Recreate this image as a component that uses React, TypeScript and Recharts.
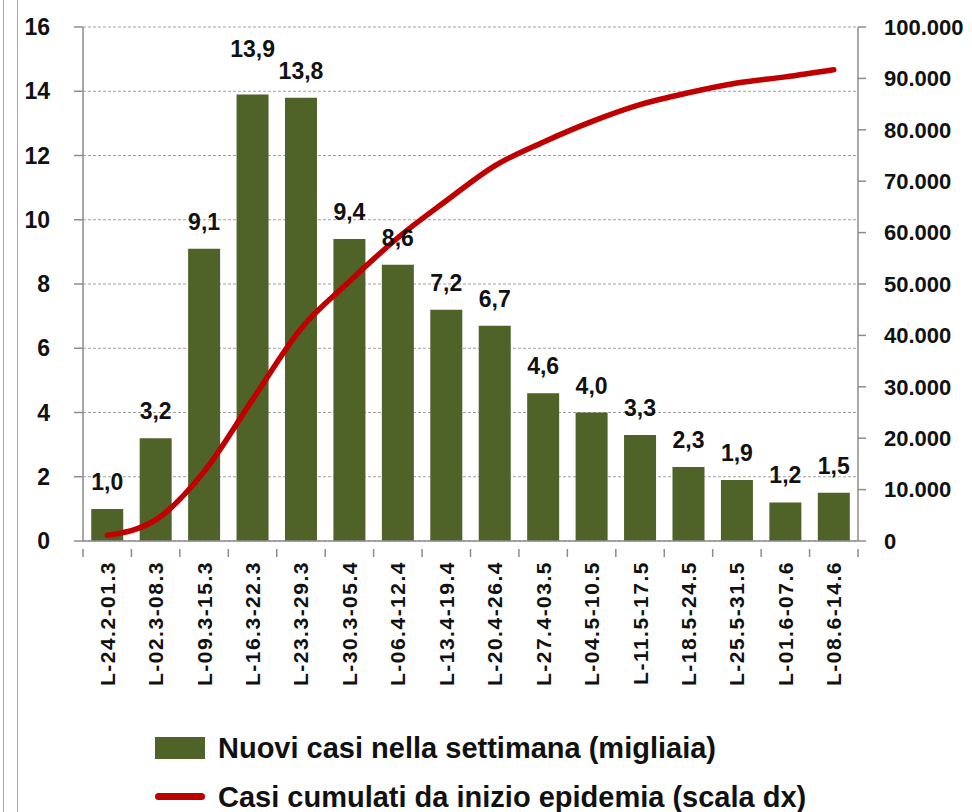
import { ComposedChart, Bar, Line, XAxis, YAxis, CartesianGrid, LabelList, Legend } from "recharts";

// weekly periods
const weeks = [
  "L-24.2-01.3", "L-02.3-08.3", "L-09.3-15.3", "L-16.3-22.3", "L-23.3-29.3", "L-30.3-05.4",
  "L-06.4-12.4", "L-13.4-19.4", "L-20.4-26.4", "L-27.4-03.5", "L-04.5-10.5", "L-11.5-17.5",
  "L-18.5-24.5", "L-25.5-31.5", "L-01.6-07.6", "L-08.6-14.6",
];

// new cases in the week (thousands)
const newCases = [1.0, 3.2, 9.1, 13.9, 13.8, 9.4, 8.6, 7.2, 6.7, 4.6, 4.0, 3.3, 2.3, 1.9, 1.2, 1.5];

// cumulative cases (right scale)
const cumulative = [
  1100, 4100, 13500, 27500, 41300, 50500, 59000, 66200, 73000, 77600, 81600, 84900, 87200, 89100, 90300, 91700,
];

const leftTicks = [0, 2, 4, 6, 8, 10, 12, 14, 16];
const rightTicks = [0, 10000, 20000, 30000, 40000, 50000, 60000, 70000, 80000, 90000, 100000];

const data = weeks.map((w, i) => ({ week: w, nuovi: newCases[i], cumulati: cumulative[i] }));

const GREEN = "#4f6228";
const RED = "#c00000";
const AXIS = "#8c8c8c";
const FONT = "'Liberation Sans', Arial, sans-serif";

const fmtThousands = (v: number) => (v === 0 ? "0" : v.toLocaleString("it-IT").replace(/\s/g, "."));
const fmtDecimal = (v: any) => Number(v).toFixed(1).replace(".", ",");

const BAND = 775 / weeks.length;

function WeekTick(props: any) {
  const { x, y, payload, index } = props;
  const ty = y + 12;
  return (
    <g>
      <line x1={x - BAND / 2} y1={y} x2={x - BAND / 2} y2={y + 8} stroke={AXIS} strokeWidth={1.5} />
      {index === weeks.length - 1 && (
        <line x1={x + BAND / 2} y1={y} x2={x + BAND / 2} y2={y + 8} stroke={AXIS} strokeWidth={1.5} />
      )}
      <text
        x={x}
        y={ty}
        transform={`rotate(-90, ${x}, ${ty})`}
        textAnchor="end"
        dominantBaseline="central"
        fontFamily={FONT}
        fontWeight="bold"
        fontSize={21}
        letterSpacing={1.5}
        fill="#111"
      >
        {payload.value}
      </text>
    </g>
  );
}

// lift a label when the next bar has almost the same height (labels would collide)
function BarValueLabel(props: any) {
  const { x, y, width, value, index } = props;
  const next = newCases[index + 1];
  const lift = next !== undefined && value > next && value - next < 0.3 ? 18 : 0;
  return (
    <text
      x={x + width / 2}
      y={y - 19 - lift}
      textAnchor="middle"
      fontFamily={FONT}
      fontWeight="bold"
      fontSize={23}
      fill="#111"
    >
      {fmtDecimal(value)}
    </text>
  );
}

function ChartLegend() {
  const textStyle: any = {
    position: "absolute",
    left: 218,
    fontFamily: FONT,
    fontWeight: "bold",
    fontSize: 29,
    color: "#111",
    whiteSpace: "nowrap",
    lineHeight: "32px",
  };
  return (
    <div style={{ position: "relative", width: 972, height: 106 }}>
      <div style={{ position: "absolute", left: 155, top: 31, width: 50, height: 22, background: GREEN }} />
      <div style={{ ...textStyle, top: 26 }}>Nuovi casi nella settimana (migliaia)</div>
      <div style={{ position: "absolute", left: 155, top: 87, width: 50, height: 7, borderRadius: 4, background: RED }} />
      <div style={{ ...textStyle, top: 75 }}>Casi cumulati da inizio epidemia (scala dx)</div>
    </div>
  );
}

export default function App() {
  return (
    <div style={{ position: "absolute", left: 0, top: 0, width: 972, height: 812, background: "#fff", overflow: "hidden" }}>
      <div style={{ position: "absolute", left: 3, top: 0, width: 0, height: 812, borderLeft: "1.5px solid #aaa" }} />
      <div
        style={{
          position: "absolute",
          left: 17,
          top: -20,
          width: 1000,
          height: 842,
          border: "1.5px solid #aaa",
          borderRadius: 12,
        }}
      />
      <ComposedChart
        width={972}
        height={812}
        data={data}
        margin={{ top: 27, right: 0, bottom: 0, left: 0 }}
        barCategoryGap="17%"
        style={{ position: "absolute", left: 0, top: 0 }}
      >
        <CartesianGrid yAxisId="left" vertical={false} horizontal stroke="#a0a0a0" strokeDasharray="3 2" />
        <XAxis
          dataKey="week"
          interval={0}
          height={165}
          tick={<WeekTick />}
          tickLine={false}
          axisLine={{ stroke: AXIS, strokeWidth: 1.5 }}
        />
        <YAxis
          yAxisId="left"
          orientation="left"
          width={83}
          domain={[0, 16]}
          ticks={leftTicks}
          interval={0}
          tickSize={9}
          tickMargin={24}
          tickLine={{ stroke: AXIS, strokeWidth: 1.5 }}
          axisLine={{ stroke: AXIS, strokeWidth: 1.5 }}
          tick={{ fontFamily: FONT, fontWeight: "bold", fontSize: 23, fill: "#111" }}
        />
        <YAxis
          yAxisId="right"
          orientation="right"
          width={114}
          domain={[0, 100000]}
          ticks={rightTicks}
          interval={0}
          tickSize={8}
          tickMargin={18}
          tickFormatter={fmtThousands}
          tickLine={{ stroke: AXIS, strokeWidth: 1.5 }}
          axisLine={{ stroke: AXIS, strokeWidth: 1.5 }}
          tick={{ fontFamily: FONT, fontWeight: "bold", fontSize: 22, fill: "#111", textAnchor: "start" }}
        />
        <Legend verticalAlign="bottom" height={106} content={<ChartLegend />} wrapperStyle={{ left: 0, bottom: 0, width: 972 }} />
        <Bar yAxisId="left" dataKey="nuovi" fill={GREEN} isAnimationActive={false}>
          <LabelList dataKey="nuovi" content={<BarValueLabel />} />
        </Bar>
        <Line
          yAxisId="right"
          dataKey="cumulati"
          type="monotone"
          stroke={RED}
          strokeWidth={5.5}
          strokeLinecap="round"
          dot={false}
          activeDot={false}
          isAnimationActive={false}
        />
      </ComposedChart>
    </div>
  );
}
